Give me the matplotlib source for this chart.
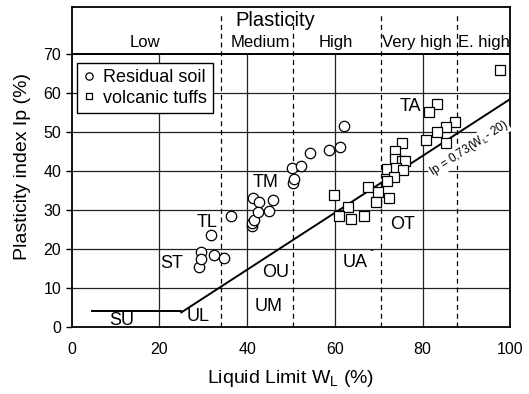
import numpy as np
import matplotlib
matplotlib.use("Agg")
import matplotlib.pyplot as plt

plt.rcParams['font.family'] = ['Liberation Sans', 'DejaVu Sans']
plt.rcParams['mathtext.fontset'] = 'custom'
plt.rcParams['mathtext.rm'] = 'Liberation Sans'
plt.rcParams['mathtext.it'] = 'Liberation Sans'

# residual soil (circles)
res_wl = [29.0, 29.4, 29.6, 31.8, 32.5, 34.7, 36.3, 41.1, 41.2, 41.6, 41.4, 42.7,
          42.6, 45.1, 46.0, 50.4, 50.7, 50.3, 52.3, 54.4, 58.7, 61.2, 62.1]
res_ip = [15.4, 19.1, 17.4, 23.6, 18.4, 17.7, 28.3, 25.9, 26.5, 27.4, 32.9, 32.1,
          29.5, 29.8, 32.5, 36.8, 37.8, 40.6, 41.3, 44.6, 45.3, 46.2, 51.5]

# volcanic tuffs (squares)
tuf_wl = [97.6, 83.4, 81.4, 87.4, 85.3, 83.4, 80.7, 85.3, 75.3, 73.7, 73.8, 75.4,
          76.0, 71.9, 73.9, 75.6, 73.6, 71.8, 67.5, 69.9, 72.3, 69.3, 59.8, 62.9,
          60.9, 63.7, 66.7]
tuf_ip = [65.8, 57.1, 55.1, 52.4, 51.3, 50.0, 48.0, 47.0, 47.0, 45.1, 42.9, 42.6,
          42.6, 40.4, 40.6, 40.2, 38.5, 37.4, 35.9, 34.6, 33.1, 31.9, 33.8, 30.8,
          28.4, 27.5, 28.5]

# plasticity class boundaries and header labels
bounds = [34, 50.5, 70.5, 87.8]
class_names = ['Low', 'Medium', 'High', 'Very high', 'E. high']
class_x = [16.7, 43.0, 60.3, 78.8, 94.0]

# zone labels
zone_names = ['SU', 'UL', 'ST', 'TL', 'OU', 'UM', 'TM', 'UA', 'OT', 'TA']
zone_x = [11.5, 28.8, 22.8, 30.8, 46.4, 44.9, 44.1, 64.7, 75.5, 77.3]
zone_y = [1.7, 2.6, 16.3, 26.7, 13.8, 5.1, 36.9, 16.4, 26.3, 56.4]

# A-line: Ip = 0.73 (WL - 20), with a flat part at Ip = 4
aline_x = np.array([25, 100])
aline_y = 0.73 * (aline_x - 20)
flat_x = [4.6, 25]
flat_y = [4, 4]

fig = plt.figure(figsize=(5.29, 3.94), dpi=100)
ax = fig.add_axes([0.1355, 0.171, 0.829, 0.811])
ax.set_xlim(0, 100)
ax.set_ylim(0, 82)

ax.hlines([10, 20, 30, 40, 50, 60], 0, 100, colors='#222222', lw=0.9, zorder=1)
ax.vlines([20, 40, 60, 80], 0, 70, colors='#222222', lw=0.9, zorder=1)
ax.axhline(70, color='k', lw=1.4, zorder=2)
ax.vlines(bounds, 0, 80.6, colors='k', lw=0.9, linestyles=(0, (4, 3)), zorder=1)

ax.plot(aline_x, aline_y, color='k', lw=1.4, zorder=3)
ax.plot(flat_x, flat_y, color='k', lw=1.4, zorder=3)

ax.plot(res_wl, res_ip, 'o', ms=7.5, mfc='white', mec='k', mew=0.9,
        label='Residual soil', zorder=4)
ax.plot(tuf_wl, tuf_ip, 's', ms=7, mfc='white', mec='k', mew=0.9,
        label='volcanic tuffs', zorder=4)

ax.text(90.5, 45.8, 'Ip = 0,73(W$_\\mathrm{L}$- 20)', rotation=33, fontsize=8.5,
        ha='center', va='center', zorder=5,
        bbox=dict(facecolor='white', edgecolor='none', pad=0.5))

for name, x, y in zip(zone_names, zone_x, zone_y):
    ax.text(x, y, name, fontsize=13, ha='center', va='center', zorder=5)
ax.text(68.3, 19.6, '-', fontsize=8, ha='center', va='center')

ax.text(46.4, 78.6, 'Plasticity', fontsize=14.5, ha='center', va='center')
for name, x in zip(class_names, class_x):
    ax.text(x, 72.8, name, fontsize=12, ha='center', va='center')

leg = ax.legend(loc='upper left', bbox_to_anchor=(0.012, 0.826), fontsize=13,
                handlelength=0.6, handletextpad=0.5, borderpad=0.35,
                labelspacing=0.2, fancybox=False, framealpha=1,
                edgecolor='k', markerscale=0.7, borderaxespad=0)
leg.get_frame().set_linewidth(1.0)

ax.set_xticks([0, 20, 40, 60, 80, 100])
ax.set_yticks([0, 10, 20, 30, 40, 50, 60, 70])
ax.tick_params(axis='x', length=0, labelsize=11.5, pad=11)
ax.tick_params(axis='y', length=4, direction='out', labelsize=11.5, width=1)
for s in ax.spines.values():
    s.set_linewidth(1.3)

ax.set_xlabel('Liquid Limit W$_\\mathrm{L}$ (%)', fontsize=14, labelpad=8)
ax.set_ylabel('Plasticity index Ip (%)', fontsize=14, labelpad=9)

fig.savefig('out.png', dpi=100)
